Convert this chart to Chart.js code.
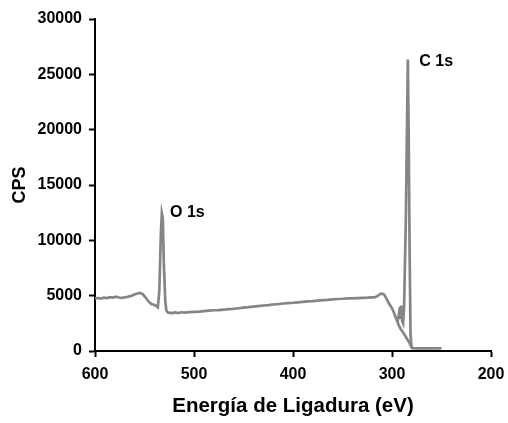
<!DOCTYPE html>
<html>
<head>
<meta charset="utf-8">
<script src="https://cdn.jsdelivr.net/npm/chart.js@4/dist/chart.umd.min.js"></script>
<style>
  html, body { margin: 0; padding: 0; background: #fff; }
  #wrap { width: 508px; height: 423px; }
</style>
</head>
<body>
<div id="wrap"><canvas id="xps-chart" width="508" height="423"></canvas></div>
<script>
// survey scan (binding energy in eV, counts per second)
const surveyEnergy = [600, 597, 594, 591, 588, 585, 582, 579, 576, 573, 570, 567, 564, 561, 558, 555, 552, 549, 546, 543, 540, 538, 536.5,
    535, 533.5, 532.5, 531.5, 530.5, 529, 528, 527, 526, 522, 519, 516, 513, 510, 505, 500, 495, 490, 485, 480, 475, 470,
    465, 460, 455, 450, 445, 440, 435, 430, 425, 420, 415, 410, 405, 400, 395, 390, 385, 380, 375, 370, 365, 360, 355, 350,
    345, 340, 335, 330, 325, 320, 317, 314, 312, 310, 308, 306, 304, 302, 300, 298, 296.5, 295, 293.3, 291, 288.3, 285.5,
    283, 281, 279.2, 275, 270, 265, 260, 255, 250];
const surveyCps = [4760, 4790, 4740, 4820, 4780, 4870, 4820, 4900, 4830, 4790, 4850, 4900, 4960, 5080, 5180, 5250, 5150, 4850, 4480, 4250, 4150, 4050, 3950,
    5500, 10500, 12450, 12000, 8000, 4500, 3700, 3550, 3460, 3420, 3480, 3430, 3500, 3470, 3520, 3540, 3560, 3600, 3640, 3680, 3700, 3730,
    3780, 3810, 3860, 3920, 3960, 4010, 4060, 4110, 4150, 4200, 4240, 4290, 4330, 4360, 4400, 4440, 4480, 4510, 4560, 4590, 4620, 4660, 4700, 4720,
    4750, 4760, 4780, 4800, 4820, 4850, 4870, 5000, 5150, 5180, 5100, 4800, 4450, 4150, 3860, 3450, 3100, 2750, 2350, 1950, 1600, 1200,
    840, 500, 260, 240, 250, 240, 250, 240, 250];

// C 1s region
const c1sEnergy = [294.5, 293, 292, 291.3, 290.5, 289.7, 288.8, 287.8, 286, 284, 283.2, 282.2, 281.3, 280.3, 279];
const c1sCps = [2600, 3300, 4000, 2900, 4100, 2700, 2500, 4000, 12000, 26350, 20000, 9000, 1500, 300, 250];

// peak labels
const peakLabels = ['O 1s', 'C 1s'];
const peakLabelEnergy = [524.2, 272.4];
const peakLabelCps = [12480, 26140];

const FONT = 'Arial, "Liberation Sans", sans-serif';
const LINE_COLOR = '#858585';

function toPoints(xs, ys) {
    return xs.map((x, i) => ({ x: x, y: ys[i] }));
}

const peakLabelPlugin = {
    id: 'peakLabels',
    afterDatasetsDraw(chart) {
        const ctx = chart.ctx;
        const xScale = chart.scales.x;
        const yScale = chart.scales.y;
        ctx.save();
        ctx.font = 'bold 16px ' + FONT;
        ctx.fillStyle = '#000';
        ctx.textAlign = 'left';
        ctx.textBaseline = 'middle';
        peakLabels.forEach((label, i) => {
            ctx.fillText(label, xScale.getPixelForValue(peakLabelEnergy[i]), yScale.getPixelForValue(peakLabelCps[i]));
        });
        ctx.restore();
    }
};

new Chart(document.getElementById('xps-chart'), {
    type: 'line',
    data: {
        datasets: [{
            data: toPoints(surveyEnergy, surveyCps),
            borderColor: LINE_COLOR,
            borderWidth: 2.7,
            pointRadius: 0,
            tension: 0
        }, {
            data: toPoints(c1sEnergy, c1sCps),
            borderColor: LINE_COLOR,
            borderWidth: 2.7,
            pointRadius: 0,
            tension: 0
        }]
    },
    options: {
        responsive: false,
        animation: false,
        devicePixelRatio: 1,
        layout: { padding: { top: 19, right: 17, left: 0, bottom: 0 } },
        plugins: {
            legend: { display: false },
            tooltip: { enabled: false }
        },
        scales: {
            x: {
                type: 'linear',
                reverse: true,
                min: 200,
                max: 600,
                afterFit: scale => {
                    scale.height = 72;
                    scale.paddingLeft = 0;
                    scale.paddingRight = 0;
                },
                ticks: {
                    stepSize: 100,
                    color: '#000',
                    padding: 8,
                    maxRotation: 0,
                    font: { family: FONT, size: 16, weight: 'bold' }
                },
                grid: {
                    drawOnChartArea: false,
                    tickLength: 6,
                    tickWidth: 2,
                    color: '#000'
                },
                border: { display: true, color: '#000', width: 2 },
                title: {
                    display: true,
                    text: 'Energía de Ligadura (eV)',
                    color: '#000',
                    padding: { top: 6 },
                    font: { family: FONT, size: 20.5, weight: 'bold' }
                }
            },
            y: {
                min: 0,
                max: 30000,
                afterFit: scale => { scale.width = 95; },
                ticks: {
                    stepSize: 5000,
                    color: '#000',
                    padding: 7,
                    callback: value => String(value),
                    font: { family: FONT, size: 16, weight: 'bold' }
                },
                grid: {
                    drawOnChartArea: false,
                    tickLength: 6,
                    tickWidth: 2,
                    color: '#000'
                },
                border: { display: true, color: '#000', width: 2 },
                title: {
                    display: true,
                    text: 'CPS',
                    color: '#000',
                    padding: { top: 9, bottom: 0 },
                    font: { family: FONT, size: 18, weight: 'bold' }
                }
            }
        }
    },
    plugins: [peakLabelPlugin]
});
</script>
</body>
</html>
